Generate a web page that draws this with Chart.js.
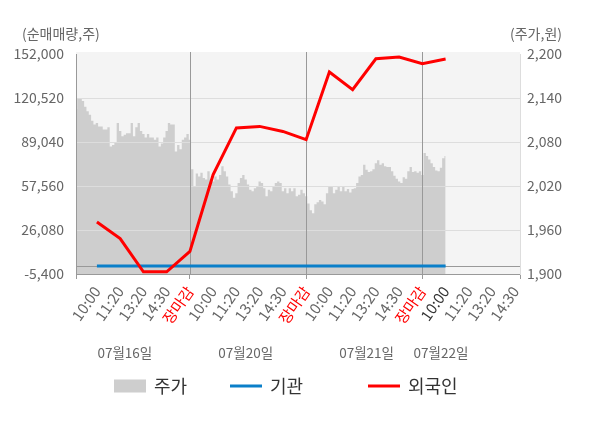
<!DOCTYPE html>
<html>
<head>
<meta charset="utf-8">
<script src="https://cdn.jsdelivr.net/npm/chart.js@4.4.0/dist/chart.umd.min.js"></script>
<style>
  html, body { margin: 0; padding: 0; background: #ffffff; }
  #wrap { width: 600px; height: 428px; }
</style>
</head>
<body>
<div id="wrap"><canvas id="chart-space" width="600" height="428"></canvas></div>
<script>
// x axis: 10 steps per label slot, 9 steps of morning trading before 10:00
const timeLabels = ['10:00', '11:20', '13:20', '14:30', '장마감',
                    '10:00', '11:20', '13:20', '14:30', '장마감',
                    '10:00', '11:20', '13:20', '14:30', '장마감',
                    '10:00', '11:20', '13:20', '14:30'];
const dateLabels = ['07월16일', '07월20일', '07월21일', '07월22일'];
const dateLabelIndex = [21, 73, 125, 157];

// 주가 (원), sampled along each trading day
const priceDay1 = [2125, 2139, 2139, 2136, 2128, 2122, 2117, 2109, 2104, 2106,
                   2101, 2101, 2097, 2097, 2100, 2074, 2076, 2079, 2106, 2095,
                   2088, 2090, 2092, 2092, 2106, 2088, 2100, 2106, 2095, 2091,
                   2086, 2091, 2086, 2086, 2083, 2086, 2074, 2078, 2086, 2095,
                   2106, 2104, 2104, 2067, 2076, 2070, 2083, 2086, 2091, 2083];
const priceDay2 = [2043, 2020, 2037, 2033, 2038, 2031, 2029, 2040, 2029, 2026,
                   2033, 2029, 2035, 2047, 2040, 2033, 2022, 2013, 2004, 2010,
                   2024, 2031, 2035, 2029, 2022, 2015, 2013, 2017, 2020, 2026,
                   2024, 2017, 2006, 2015, 2013, 2020, 2024, 2026, 2024, 2013,
                   2017, 2010, 2017, 2013, 2017, 2006, 2008, 2015, 2010, 2006];
const priceDay3 = [1996, 1987, 1983, 1995, 1998, 2001, 1999, 1995, 2010, 2020,
                   2020, 2010, 2015, 2020, 2013, 2020, 2013, 2016, 2011, 2016,
                   2017, 2024, 2033, 2035, 2049, 2042, 2039, 2040, 2043, 2051,
                   2055, 2049, 2051, 2047, 2046, 2046, 2040, 2034, 2030, 2026,
                   2024, 2032, 2030, 2040, 2046, 2039, 2040, 2038, 2040, 2035];
const priceDay4 = [2065, 2061, 2056, 2051, 2046, 2041, 2040, 2045, 2058, 2061];

// 순매매량 (주) at each label slot
const foreignNet = [31800, 19900, -3800, -3800, 10800, 65700, 99100, 100200, 96600, 90700,
                    139100, 126500, 148600, 149900, 145100, 148400];
const institutionNet = [300, 300, 300, 300, 300, 300, 300, 300, 300, 300,
                        300, 300, 300, 300, 300, 300];

const leftTicks = { min: -5400, max: 152000, step: 31480 };
const rightTicks = { min: 1900, max: 2200, step: 60 };

const STEP = 10;
const LEAD = 9;
const N = LEAD + (timeLabels.length - 1) * STEP + 3;
const slotIndex = k => LEAD + k * STEP;
const dayEnds = [slotIndex(4), slotIndex(9), slotIndex(14)];

const FONT = "'Noto Sans CJK KR', 'Noto Sans', sans-serif";

const labels = Array(N).fill('');
timeLabels.forEach((t, k) => labels[slotIndex(k)] = t);
const dateRow = Array(N).fill('');
dateLabels.forEach((d, n) => dateRow[dateLabelIndex[n]] = d);

const prices = [...priceDay1, ...priceDay2, ...priceDay3, ...priceDay4];
const priceData = labels.map((_, i) => i < prices.length ? prices[i] : null);
const foreignData = Array(N).fill(null);
foreignNet.forEach((v, k) => foreignData[slotIndex(k)] = v);
const institutionData = Array(N).fill(null);
institutionNet.forEach((v, k) => institutionData[slotIndex(k)] = v);

const legendX = [114, 230, 368];

const panelPlugin = {
    id: 'panel',
    beforeDraw(chart) {
        const { ctx, chartArea: a } = chart;
        ctx.save();
        ctx.fillStyle = '#f4f4f4';
        ctx.fillRect(a.left, a.top - 2, a.right - a.left, a.bottom - a.top + 2);

        ctx.fillStyle = '#666';
        ctx.font = `14px ${FONT}`;
        ctx.textBaseline = 'middle';
        ctx.textAlign = 'left';
        ctx.fillText('(순매매량,주)', 22, 34);
        ctx.textAlign = 'right';
        ctx.fillText('(주가,원)', 562, 34);

        // legend
        ctx.font = `18px ${FONT}`;
        ctx.textAlign = 'left';
        chart.data.datasets.forEach((ds, n) => {
            const x = legendX[n];
            const y = 386;
            if (ds.fill) {
                ctx.fillStyle = ds.backgroundColor;
                ctx.fillRect(x, y - 6.5, 32, 13);
            } else {
                ctx.strokeStyle = ds.borderColor;
                ctx.lineWidth = 3;
                ctx.beginPath();
                ctx.moveTo(x, y);
                ctx.lineTo(x + 32, y);
                ctx.stroke();
            }
            ctx.fillStyle = '#333';
            ctx.fillText(ds.label, x + 40, y);
        });
        ctx.restore();
    },
    afterDatasetDraw(chart, args) {
        if (args.index !== 0) return;
        const { ctx, chartArea: a, scales } = chart;
        ctx.save();
        ctx.lineWidth = 1;
        ctx.strokeStyle = '#dddddd';
        scales.y.ticks.forEach(t => {
            const y = Math.round(scales.y.getPixelForValue(t.value)) + 0.5;
            if (y > a.bottom - 1 || y < a.top + 1) return;
            ctx.beginPath();
            ctx.moveTo(a.left, y);
            ctx.lineTo(a.right, y);
            ctx.stroke();
        });
        ctx.strokeStyle = '#999999';
        const zy = Math.round(scales.y.getPixelForValue(0)) + 0.5;
        ctx.beginPath();
        ctx.moveTo(a.left, zy);
        ctx.lineTo(a.right, zy);
        ctx.stroke();
        dayEnds.forEach(i => {
            const x = Math.round(scales.x.getPixelForValue(i)) + 0.5;
            ctx.beginPath();
            ctx.moveTo(x, a.top - 2);
            ctx.lineTo(x, a.bottom);
            ctx.stroke();
        });
        ctx.restore();
    }
};

const tickColor = c => {
    const label = labels[c.index];
    if (label === '장마감') return '#ff0000';
    if (c.index === slotIndex(15)) return '#333333';
    return '#666666';
};

new Chart(document.querySelector('#chart-space').getContext('2d'), {
    type: 'line',
    plugins: [panelPlugin],
    data: {
        labels: labels,
        datasets: [
            {
                label: '주가',
                data: priceData,
                yAxisID: 'y2',
                fill: 'start',
                backgroundColor: '#cecece',
                borderWidth: 0,
                pointRadius: 0,
                stepped: 'middle',
                order: 3
            },
            {
                label: '기관',
                data: institutionData,
                yAxisID: 'y',
                fill: false,
                borderColor: '#0a7fc9',
                borderWidth: 3,
                pointRadius: 0,
                spanGaps: true,
                tension: 0,
                order: 2
            },
            {
                label: '외국인',
                data: foreignData,
                yAxisID: 'y',
                fill: false,
                borderColor: '#ff0000',
                borderWidth: 3,
                pointRadius: 0,
                spanGaps: true,
                tension: 0,
                order: 1
            }
        ]
    },
    options: {
        responsive: false,
        animation: false,
        layout: { padding: { top: 54, left: 0, right: 0, bottom: 0 } },
        plugins: {
            legend: { display: false },
            tooltip: { enabled: false }
        },
        scales: {
            x: {
                type: 'category',
                position: 'bottom',
                offset: false,
                weight: 0,
                afterFit: s => { s.height = 62; },
                grid: {
                    drawOnChartArea: false,
                    tickLength: 5,
                    color: c => (dayEnds.includes(c.index) || c.index === 0 || c.index === N - 1) ? '#999999' : 'rgba(0,0,0,0)'
                },
                border: { color: '#999999', z: 1 },
                ticks: {
                    autoSkip: false,
                    minRotation: 55,
                    maxRotation: 55,
                    padding: 4,
                    color: tickColor,
                    font: { family: FONT, size: 15 }
                }
            },
            x2: {
                type: 'category',
                position: 'bottom',
                labels: dateRow,
                offset: false,
                weight: 1,
                afterFit: s => { s.height = 428 - 274 - 62; },
                grid: { display: false, drawTicks: false },
                border: { display: false },
                ticks: {
                    autoSkip: false,
                    maxRotation: 0,
                    minRotation: 0,
                    padding: 9,
                    color: '#666666',
                    font: { family: FONT, size: 13.5 }
                }
            },
            y: {
                position: 'left',
                min: leftTicks.min,
                max: leftTicks.max,
                afterFit: s => { s.width = 76; },
                grid: { display: false, drawTicks: false },
                border: { color: '#999999', z: 1 },
                ticks: {
                    stepSize: leftTicks.step,
                    padding: 12,
                    color: '#666666',
                    font: { family: FONT, size: 14 },
                    callback: v => v.toLocaleString('en-US')
                }
            },
            y2: {
                position: 'right',
                min: rightTicks.min,
                max: rightTicks.max,
                afterFit: s => { s.width = 80; },
                grid: { display: false, drawTicks: false },
                border: { color: '#dddddd', z: 1 },
                ticks: {
                    stepSize: rightTicks.step,
                    padding: 7,
                    color: '#666666',
                    font: { family: FONT, size: 14 },
                    callback: v => v.toLocaleString('en-US')
                }
            }
        }
    }
});
</script>
</body>
</html>
